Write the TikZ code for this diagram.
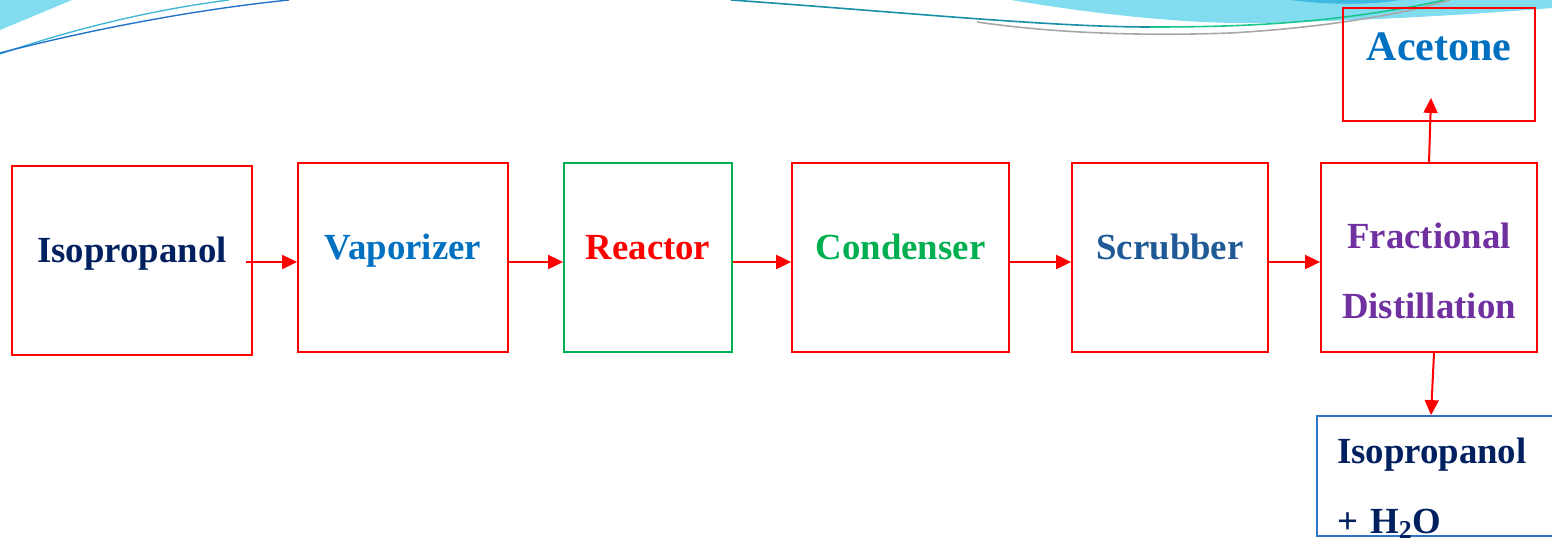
\documentclass[tikz,border=0pt]{standalone}
\usepackage{fontspec}
\setmainfont{Liberation Serif}
\usetikzlibrary{arrows.meta, positioning}

\definecolor{boxred}{HTML}{FF0000}
\definecolor{boxgreen}{HTML}{00B050}
\definecolor{boxblue}{HTML}{2E75C8}
\definecolor{txtnavy}{HTML}{002060}
\definecolor{txtblue}{HTML}{0070C0}
\definecolor{txtgreen}{HTML}{00B050}
\definecolor{txtsteel}{HTML}{1F5A96}
\definecolor{txtpurple}{HTML}{7030A0}
\definecolor{wavecyan}{HTML}{80DCEE}
\definecolor{wavedeep}{HTML}{3DB8E0}
\definecolor{waveteal}{HTML}{1A8FA8}
\definecolor{wavelight}{HTML}{45B8D8}
\definecolor{waveblue}{HTML}{2274C8}
\definecolor{wavegreen}{HTML}{1CC48E}
\definecolor{wavegray}{HTML}{A8A8A8}

\begin{document}
\begin{tikzpicture}[
  x=0.5pt, y=-0.5pt,
  unode/.style={rectangle, draw=boxred, line width=0.9pt, inner sep=0pt,
                minimum height=94.5pt, text height=48pt, text depth=46.5pt,
                align=center, font=\fontsize{18.4}{35}\selectfont\bfseries},
  pnode/.style={rectangle, draw=boxred, line width=0.9pt, inner sep=0pt,
                font=\bfseries},
  arrow/.style={-{Triangle[length=7.5pt, width=7pt]}, draw=boxred, line width=1pt},
]
\useasboundingbox (0,0) rectangle (1552,541);

% ---- background wave ----
\fill[wavecyan] (0,0) -- (72,0) -- (0,30) -- cycle;
\draw[wavelight, line width=0.7pt] (0,54) .. controls (70,30) and (150,10) .. (229,0);
\draw[waveblue, line width=0.7pt] (0,53) .. controls (80,32) and (190,10) .. (289,0);
\fill[wavecyan] (1011,0) .. controls (1120,18) and (1200,24) .. (1263,23)
  .. controls (1380,20) and (1480,14) .. (1552,8) -- (1552,0) -- cycle;
\fill[wavedeep] (1290,0) .. controls (1330,5) and (1370,5) .. (1400,0) -- cycle;
\draw[waveteal, line width=0.8pt] (731,0) .. controls (900,12) and (1050,27) .. (1150,27);
\draw[wavegreen, line width=0.8pt] (1150,27) .. controls (1230,27) and (1330,25) .. (1445,0);
\draw[wavegray, line width=0.8pt] (977,22) .. controls (1060,34) and (1150,36) .. (1230,33)
  .. controls (1320,28) and (1400,15) .. (1450,0);

% ---- nodes ----
\node[unode, minimum width=120pt, text=txtnavy] (iso) at (132,260.5) {Isopropanol};
\node[unode, minimum width=105pt, text=txtblue, right=22.1pt of iso, yshift=1.5pt] (vap) {Vaporizer};
\node[unode, minimum width=84pt, draw=boxgreen, text=boxred, right=27.1pt of vap] (reac) {Reactor};
\node[unode, minimum width=108.5pt, text=txtgreen, right=29.1pt of reac] (cond) {Condenser};
\node[unode, minimum width=98pt, text=txtsteel, right=30.6pt of cond] (scrub) {Scrubber};
\node[unode, minimum width=108pt, text=txtpurple, text height=77.5pt, text depth=17pt,
      right=25.6pt of scrub] (frac) {Fractional\\Distillation};

\node[pnode, minimum width=96pt, text height=26pt, text depth=30.5pt, text=txtblue,
      font=\fontsize{21}{25}\selectfont\bfseries,
      above=20.1pt of frac, xshift=5pt] (acet) {Acetone};
\node[pnode, draw=boxblue, inner xsep=10pt, text width=101pt, align=left,
      text height=23.5pt, text depth=36.5pt, text=txtnavy,
      font=\fontsize{18.4}{35}\selectfont\bfseries,
      below=31.1pt of frac, xshift=4.5pt] (resid) {Isopropanol\\+ H\textsubscript{2}O};

% ---- connectors ----
\draw[arrow] ([xshift=-3.5pt, yshift=-0.75pt]iso.east) -- ([yshift=-2.25pt]vap.west);
\draw[arrow] ([yshift=-2.25pt]vap.east)  -- ([yshift=-2.25pt]reac.west);
\draw[arrow] ([yshift=-2.25pt]reac.east) -- ([yshift=-2.25pt]cond.west);
\draw[arrow] ([yshift=-2.25pt]cond.east) -- ([yshift=-2.25pt]scrub.west);
\draw[arrow] ([yshift=-2.25pt]scrub.east) -- ([yshift=-2.25pt]frac.west);
\draw[arrow] (frac.north) -- ([xshift=-4pt, yshift=12pt]acet.south);
\draw[arrow] ([xshift=2.5pt]frac.south) -- ([xshift=-3.5pt]resid.north);

\end{tikzpicture}
\end{document}
